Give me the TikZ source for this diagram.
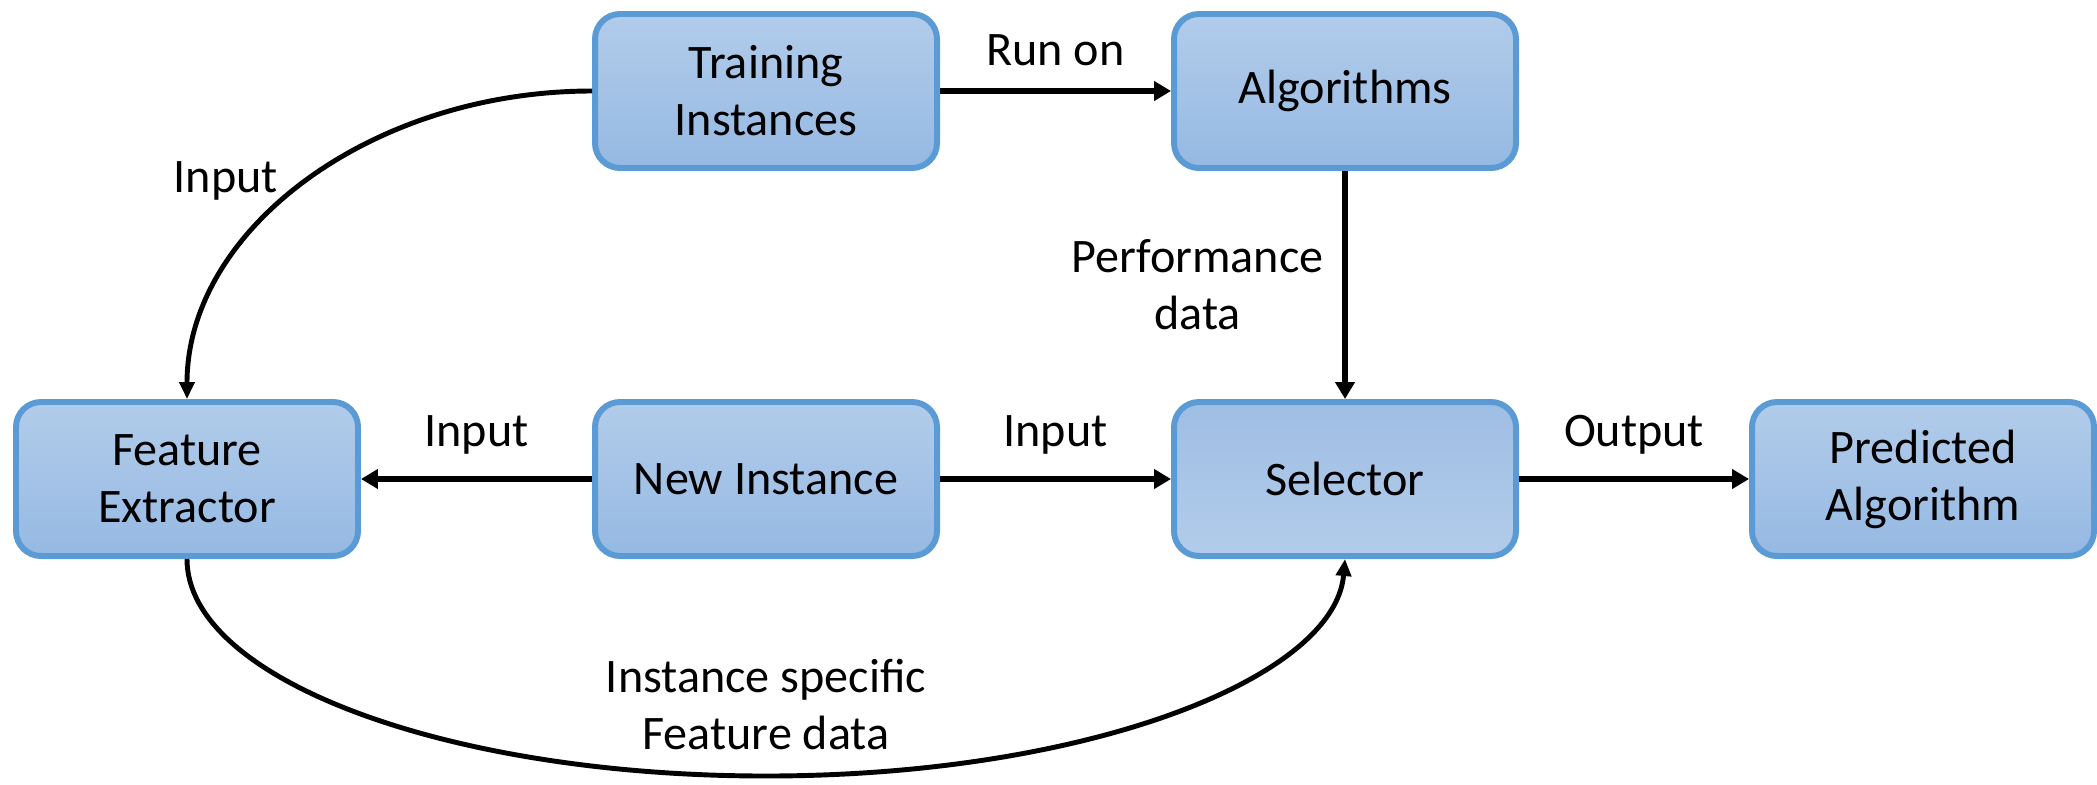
\documentclass[tikz,border=0pt]{standalone}
\usepackage{fontspec}
\setmainfont{Carlito}
\usetikzlibrary{arrows.meta}
\usetikzlibrary{positioning}

\definecolor{boxline}{HTML}{5B9BD5}
\definecolor{boxtop}{HTML}{B2CCEA}
\definecolor{boxbot}{HTML}{95B9E3}
\definecolor{selmid}{HTML}{9FBEE4}

\begin{document}
\begin{tikzpicture}[font=\fontsize{13.7}{16.2}\selectfont,
  stage/.style={draw=boxline, line width=1.7pt, rounded corners=0.25cm,
    top color=boxtop, bottom color=boxbot, align=center,
    minimum width=3.42cm, minimum height=1.54cm},
  flow/.style={line width=1.7pt, -{Triangle[length=0.17cm,width=0.19cm]}},
  curveflow/.style={line width=1.4pt, -{Triangle[length=0.17cm,width=0.15cm]}},
  lbl/.style={align=center}]
\useasboundingbox (0,0) rectangle (20.97,7.84);
%%% boxes %%%

      \node[stage] (train) at (7.66,6.93) {Training\\ Instances};
      \node[stage] (algo) at (13.45,6.93) {Algorithms};
      %%
      \node[stage] (feat) at (1.87,3.05) {Feature\\ Extractor};
      \node[stage] (newi) at (7.66,3.05) {New Instance};
      \node[stage, top color=selmid, bottom color=boxtop] (sel) at (13.45,3.05) {Selector};
      \node[stage] (pred) at (19.23,3.05) {Predicted\\ Algorithm};
      \coordinate (bot) at (7.66,0.08);

%%% arrows %%%

      \draw[flow] (train) -- node[lbl, above=3pt] {Run on} (algo);
      \draw[flow] (algo) -- node[lbl, left=2pt] {Performance\\ data} (sel);
      \draw[curveflow] (train.west) to[out=180, in=90, out distance=2.2cm, in distance=1.7cm]
        node[lbl, pos=0.5, left=0.15cm] {Input} (feat.north);
      %%
      \draw[flow] (newi) -- node[lbl, above=3pt] {Input} (feat);
      \draw[flow] (newi) -- node[lbl, above=3pt] {Input} (sel);
      \draw[flow] (sel) -- node[lbl, above=3pt] {Output} (pred);
      %%
      \draw[curveflow] (feat.south) to[out=-90, in=180, out distance=1.2cm, in distance=3.2cm] (bot)
        to[out=0, in=-95, out distance=3.2cm, in distance=1.2cm] (sel.south);
      \node[lbl, above=0.14cm of bot] (featdata) {Instance specific\\ Feature data};

\end{tikzpicture}
\end{document}
